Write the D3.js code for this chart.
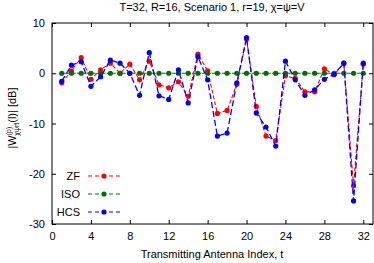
<!DOCTYPE html>
<html>
<head>
<meta charset="utf-8">
<script src="https://cdn.jsdelivr.net/npm/d3@7"></script>
<style>
  body { margin: 0; background: #fff; }
  svg { display: block; font-family: "Liberation Sans", Arial, sans-serif; }
</style>
</head>
<body>
<svg id="chart" width="374" height="263"></svg>
<script>
// antenna index t = 1..32
const antennaIdx = d3.range(1, 33);

const zfValues  = [-1.9, 0.5, 3.1, -1.2, 0.7, 2.0, 0.0, 1.8, -1.3, 2.4, -2.3, -2.9, -1.7, -4.6, 3.8, 0.5,
                   -8.0, -7.4, -2.2, 6.8, -6.6, -12.5, -13.4, -0.5, -1.0, -3.7, -3.7, 0.9, -0.3, 2.0, -22.4, 1.8];
const isoValues = antennaIdx.map(() => 0);
const hcsValues = [-1.6, 1.6, 2.3, -2.6, -0.7, 2.6, 2.0, 0.0, -4.4, 4.1, -4.5, -5.2, 0.7, -5.9, 3.3, -1.3,
                   -12.5, -11.9, -1.9, 7.1, -7.9, -10.7, -14.5, 2.4, -1.3, -4.4, -3.3, -1.2, -0.2, 2.0, -25.4, 2.0];

const xTicks = [0, 4, 8, 12, 16, 20, 24, 28, 32];
const yTicks = [10, 0, -10, -20, -30];

const series = [
  { name: "ZF",  values: zfValues,  color: "#ff0000", dash: "4,2", width: 1.1 },
  { name: "ISO", values: isoValues, color: "#007000", dash: "4,1", width: 1.1 },
  { name: "HCS", values: hcsValues, color: "#0000ff", dash: "6,3", width: 1.3 }
];

const svg = d3.select("#chart");
const margin = { left: 52, right: 1, top: 23, bottom: 39 };
const W = 374, H = 263;

const x = d3.scaleLinear().domain([0, 33]).range([margin.left, W - margin.right]);
const y = d3.scaleLinear().domain([-30, 10]).range([H - margin.bottom, margin.top]);

// frame
svg.append("rect")
  .attr("x", x(0)).attr("y", y(10))
  .attr("width", x(33) - x(0)).attr("height", y(-30) - y(10))
  .attr("fill", "none").attr("stroke", "#000").attr("stroke-width", 1);

// axes with inward ticks
svg.append("g")
  .attr("transform", `translate(0,${y(-30)})`)
  .call(d3.axisBottom(x).tickValues(xTicks).tickSizeInner(-4).tickSizeOuter(0).tickPadding(8))
  .call(g => g.select(".domain").remove());
svg.append("g")
  .attr("transform", `translate(0,${y(10)})`)
  .call(d3.axisTop(x).tickValues(xTicks).tickSizeInner(-4).tickSizeOuter(0).tickFormat(""))
  .call(g => g.select(".domain").remove());
svg.append("g")
  .attr("transform", `translate(${x(0)},0)`)
  .call(d3.axisLeft(y).tickValues(yTicks).tickSizeInner(-4).tickSizeOuter(0).tickPadding(7)
    .tickFormat(d => d < 0 ? "-" + Math.abs(d) : d))
  .call(g => g.select(".domain").remove());
svg.append("g")
  .attr("transform", `translate(${x(33)},0)`)
  .call(d3.axisRight(y).tickValues(yTicks).tickSizeInner(-4).tickSizeOuter(0).tickFormat(""))
  .call(g => g.select(".domain").remove());

svg.selectAll(".tick text").attr("font-size", 11).attr("font-family", "Liberation Sans, Arial, sans-serif").attr("fill", "#000");
svg.selectAll(".tick line").attr("stroke", "#000");

// series
const line = d3.line().x((d, i) => x(antennaIdx[i])).y(d => y(d));
series.forEach(s => {
  svg.append("path")
    .datum(s.values)
    .attr("d", line)
    .attr("fill", "none")
    .attr("stroke", s.color)
    .attr("stroke-width", s.width)
    .attr("stroke-dasharray", s.dash);
  svg.append("g").selectAll("circle")
    .data(s.values)
    .join("circle")
    .attr("cx", (d, i) => x(antennaIdx[i]))
    .attr("cy", d => y(d))
    .attr("r", 2.6)
    .attr("fill", s.color);
});

// legend
const legend = svg.append("g");
series.forEach((s, i) => {
  const ly = 176 + i * 18;
  legend.append("text")
    .attr("x", 80).attr("y", ly + 4)
    .attr("text-anchor", "end")
    .attr("font-size", 11)
    .text(s.name);
  legend.append("line")
    .attr("x1", 88).attr("x2", 121).attr("y1", ly).attr("y2", ly)
    .attr("stroke", s.color).attr("stroke-width", 1.1)
    .attr("stroke-dasharray", "4,3");
  legend.append("circle")
    .attr("cx", 104).attr("cy", ly).attr("r", 2.6).attr("fill", s.color);
});

// title
svg.append("text")
  .attr("x", 212).attr("y", 11)
  .attr("text-anchor", "middle")
  .attr("font-size", 11)
  .text("T=32, R=16, Scenario 1, r=19, χ=ψ=V");

// x label
svg.append("text")
  .attr("x", 212).attr("y", 258)
  .attr("text-anchor", "middle")
  .attr("font-size", 11)
  .text("Transmitting Antenna Index, t");

// y label
const yl = svg.append("text")
  .attr("transform", "translate(16,118) rotate(-90)")
  .attr("text-anchor", "middle")
  .attr("font-size", 11);
yl.append("tspan").text("|W");
yl.append("tspan").attr("font-size", 7).attr("dy", -5).text("(p)");
yl.append("tspan").attr("font-size", 7).attr("dx", -9).attr("dy", 8).text("χψrt");
yl.append("tspan").attr("dy", -3).text("(l)| [dB]");
</script>
</body>
</html>
